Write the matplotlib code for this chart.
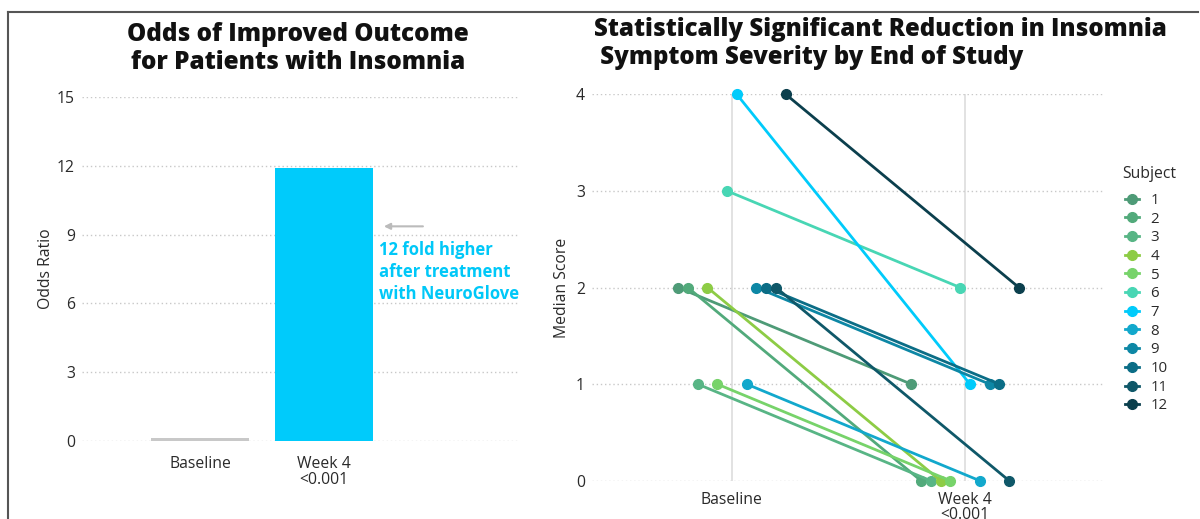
import matplotlib.pyplot as plt
from matplotlib.lines import Line2D

plt.rcParams['font.family'] = ['Open Sans', 'DejaVu Sans']

# left panel: odds ratio
or_labels = ['Baseline', 'Week 4\n<0.001']
or_values = [0.12, 11.9]
or_colors = ['#c8c8c8', '#00cbfb']

# right panel: median score per subject
subjects = ['1', '2', '3', '4', '5', '6', '7', '8', '9', '10', '11', '12']
baseline = [2, 2, 1, 2, 1, 3, 4, 1, 2, 2, 2, 4]
week4 = [1, 0, 0, 0, 0, 2, 1, 0, 1, 1, 0, 2]
subj_colors = ['#4e9b77', '#52aa7b', '#58b585', '#8dcc45', '#77d36a', '#48d6b4',
               '#00cbfb', '#12a8cc', '#0d87a5', '#0b6d86', '#0f5869', '#0b3f4d']
time_labels = ['Baseline', 'Week 4\n<0.001']

fig = plt.figure(figsize=(12, 5.19), dpi=100)

grid_kw = dict(color='#c8c8c8', linestyle=(0, (1, 2)), linewidth=1)
tick_col = '#2a2a2a'
fs = 11.3

# ---------- left ----------
ax1 = fig.add_axes([0.0683, 0.1503, 0.365, 0.6628])
ax1.bar(range(len(or_values)), or_values, width=0.79, color=or_colors, zorder=2)
ax1.set_xlim(-0.952, 2.58)
ax1.set_ylim(0, 15)
ax1.set_yticks([0, 3, 6, 9, 12, 15])
ax1.set_xticks(range(len(or_labels)))
ax1.set_xticklabels(or_labels, fontsize=fs, color=tick_col, linespacing=0.95)
ax1.set_ylabel('Odds Ratio', fontsize=fs, color=tick_col, labelpad=2)
ax1.yaxis.grid(True, **grid_kw)
ax1.set_axisbelow(True)
for s in ['top', 'bottom', 'left', 'right']:
    ax1.spines[s].set_visible(False)
ax1.tick_params(length=0, labelsize=fs, colors=tick_col)
ax1.tick_params(axis='x', pad=11)
ax1.tick_params(axis='y', pad=5)

ax1.annotate('', xy=(1.46, 9.36), xytext=(1.82, 9.36),
             arrowprops=dict(arrowstyle='-|>', color='#bbbbbb', lw=1.5,
                             mutation_scale=9))
ax1.text(1.44, 8.72, '12 fold higher\nafter treatment\nwith NeuroGlove',
         color='#00c8f8', fontsize=12, fontweight='bold', va='top', ha='left',
         linespacing=1.3)

fig.text(298 / 1200, 1 - 22 / 519, 'Odds of Improved Outcome\nfor Patients with Insomnia',
         ha='center', va='top', fontsize=17.5, fontweight='heavy', color='#111111',
         linespacing=1.17)

# ---------- right ----------
ax2 = fig.add_axes([0.4933, 0.0738, 0.4275, 0.7445])
n = len(subjects)
for i in range(n):
    off = (i - (n - 1) / 2) * 0.042
    ax2.plot([0 + off, 1 + off], [baseline[i], week4[i]], color=subj_colors[i],
             lw=2, marker='o', markersize=7, clip_on=False, zorder=3)
ax2.set_xlim(-0.6, 1.6)
ax2.set_ylim(0, 4)
ax2.set_yticks([0, 1, 2, 3, 4])
ax2.set_xticks([0, 1])
ax2.set_xticklabels(time_labels, fontsize=fs, color=tick_col, linespacing=0.95)
ax2.set_ylabel('Median Score', fontsize=fs, color=tick_col, labelpad=4)
ax2.yaxis.grid(True, **grid_kw)
ax2.xaxis.grid(True, color='#dddddd', linestyle='-', linewidth=1.2)
ax2.set_axisbelow(True)
for s in ['top', 'bottom', 'left', 'right']:
    ax2.spines[s].set_visible(False)
ax2.tick_params(length=0, labelsize=fs, colors=tick_col)
ax2.tick_params(axis='x', pad=8)
ax2.tick_params(axis='y', pad=5)

fig.text(594 / 1200, 1 - 17 / 519,
         'Statistically Significant Reduction in Insomnia\n Symptom Severity by End of Study',
         ha='left', va='top', fontsize=17.3, fontweight='heavy', color='#111111',
         linespacing=1.17)

fig.text(1122 / 1200, 1 - 174 / 519, 'Subject', fontsize=fs, color=tick_col,
         ha='left', va='center')
handles = [Line2D([], [], color=c, lw=2, marker='o', markersize=7) for c in subj_colors]
leg = fig.legend(handles, subjects, loc='upper left',
                 bbox_to_anchor=(1125 / 1200, 1 - 193 / 519), frameon=False,
                 fontsize=fs - 0.5, handlelength=0.9,
                 handletextpad=0.8, labelspacing=0.245, borderaxespad=0,
                 borderpad=0)
for t in leg.get_texts():
    t.set_color(tick_col)

# outer frame (partially visible in the reference)
fig.add_artist(Line2D([8 / 1200, 1198 / 1200], [1 - 12 / 519, 1 - 12 / 519],
                      transform=fig.transFigure, color='#555555', lw=1.5))
fig.add_artist(Line2D([8 / 1200, 8 / 1200], [0, 1 - 12 / 519],
                      transform=fig.transFigure, color='#555555', lw=1.5))

plt.savefig('out.png', dpi=100)
